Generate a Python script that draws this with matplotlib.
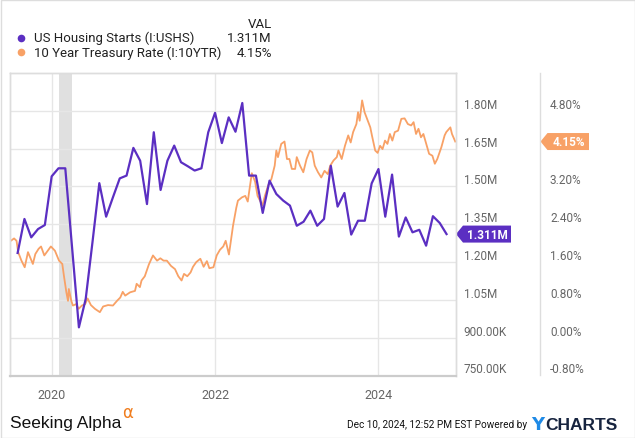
import matplotlib
matplotlib.use("Agg")
import matplotlib.pyplot as plt
from matplotlib.patches import Polygon, Rectangle
from matplotlib.lines import Line2D
from matplotlib.transforms import IdentityTransform
import pandas as pd

plt.rcParams['font.family'] = ['Roboto', 'DejaVu Sans']

PURPLE = '#5b2fc2'
ORANGE = '#f8a166'
GRID = '#e6e6e6'
TICK = '#666666'

# US housing starts, millions (monthly, Jul 2019 - Oct 2024)
housing_start = '2019-07-31'
housing = [
    1.236, 1.371, 1.298, 1.331, 1.347, 1.540,
    1.572, 1.572, 1.257, 0.941, 1.054, 1.280, 1.513, 1.380, 1.457, 1.532, 1.543, 1.653,
    1.602, 1.430, 1.715, 1.486, 1.602, 1.662, 1.596, 1.580, 1.563, 1.572, 1.715, 1.792,
    1.672, 1.774, 1.717, 1.831, 1.543, 1.543, 1.395, 1.523, 1.470, 1.444, 1.424, 1.344,
    1.360, 1.404, 1.344, 1.371, 1.582, 1.420, 1.474, 1.309, 1.364, 1.364, 1.512, 1.569,
    1.380, 1.547, 1.301, 1.377, 1.318, 1.328, 1.265, 1.382, 1.355, 1.311,
]

# 10 year treasury rate, % (decimal year, value)
tsy_t = [
    2019.50, 2019.54, 2019.57, 2019.59, 2019.63, 2019.67, 2019.71, 2019.77, 2019.80, 2019.84,
    2019.87, 2019.91, 2019.94, 2019.99, 2020.04, 2020.09, 2020.13, 2020.15, 2020.18, 2020.20,
    2020.21, 2020.24, 2020.26, 2020.30, 2020.33, 2020.37, 2020.41, 2020.44, 2020.48, 2020.53,
    2020.59, 2020.63, 2020.69, 2020.75, 2020.80, 2020.84, 2020.87, 2020.90, 2020.96, 2021.02,
    2021.04, 2021.08, 2021.10, 2021.14, 2021.19, 2021.24, 2021.29, 2021.33, 2021.37, 2021.41,
    2021.46, 2021.51, 2021.55, 2021.59, 2021.62, 2021.66, 2021.70, 2021.73, 2021.77, 2021.82,
    2021.86, 2021.90, 2021.93, 2021.98, 2022.02, 2022.06, 2022.10, 2022.13, 2022.17, 2022.22,
    2022.26, 2022.28, 2022.33, 2022.37, 2022.40, 2022.45, 2022.49, 2022.52, 2022.55, 2022.58,
    2022.61, 2022.65, 2022.69, 2022.73, 2022.75, 2022.77, 2022.81, 2022.85, 2022.88, 2022.91,
    2022.94, 2022.98, 2023.00, 2023.04, 2023.08, 2023.12, 2023.16, 2023.19, 2023.22, 2023.26,
    2023.30, 2023.34, 2023.38, 2023.41, 2023.45, 2023.49, 2023.51, 2023.55, 2023.59, 2023.63,
    2023.66, 2023.69, 2023.73, 2023.75, 2023.77, 2023.80, 2023.83, 2023.86, 2023.90, 2023.92,
    2023.96, 2023.99, 2024.02, 2024.05, 2024.08, 2024.11, 2024.14, 2024.17, 2024.20, 2024.24,
    2024.28, 2024.32, 2024.36, 2024.40, 2024.43, 2024.46, 2024.49, 2024.52, 2024.55, 2024.58,
    2024.62, 2024.66, 2024.69, 2024.72, 2024.77, 2024.81, 2024.83, 2024.88, 2024.90, 2024.94,
]
tsy = [
    2.05, 2.10, 2.05, 1.81, 1.63, 1.49, 1.81, 1.56, 1.77, 1.88,
    1.93, 1.74, 1.81, 1.93, 1.84, 1.63, 1.56, 1.31, 0.96, 0.78,
    1.03, 0.78, 0.68, 0.71, 0.61, 0.68, 0.71, 0.83, 0.69, 0.61,
    0.54, 0.66, 0.69, 0.68, 0.78, 0.85, 0.97, 0.89, 0.96, 0.99,
    1.14, 1.07, 1.21, 1.30, 1.55, 1.74, 1.63, 1.68, 1.63, 1.63,
    1.52, 1.45, 1.30, 1.21, 1.35, 1.30, 1.38, 1.50, 1.60, 1.67,
    1.50, 1.62, 1.47, 1.49, 1.74, 1.86, 1.93, 2.05, 1.76, 2.37,
    2.75, 2.90, 2.97, 3.00, 2.88, 3.48, 3.30, 3.00, 2.90, 2.80,
    3.00, 3.22, 3.36, 3.64, 3.96, 3.82, 4.10, 4.15, 3.78, 3.78,
    3.57, 3.57, 3.82, 3.64, 3.50, 3.78, 3.96, 3.92, 3.64, 3.50,
    3.39, 3.53, 3.46, 3.64, 3.75, 3.82, 3.96, 3.78, 4.06, 4.28,
    4.13, 4.35, 4.52, 4.77, 4.59, 5.02, 4.77, 4.63, 4.45, 4.28,
    3.96, 3.91, 4.06, 3.99, 4.17, 4.10, 4.31, 4.17, 4.35, 4.38,
    4.63, 4.64, 4.52, 4.49, 4.56, 4.31, 4.42, 4.24, 4.31, 4.13,
    3.89, 3.85, 3.68, 3.78, 4.03, 4.28, 4.35, 4.45, 4.31, 4.15,
]

recession = (2020.09, 2020.25)
housing_ticks = [0.75, 0.90, 1.05, 1.20, 1.35, 1.50, 1.65, 1.80]
rate_ticks = [-0.8, 0.0, 0.8, 1.6, 2.4, 3.2, 4.8]   # 4.00% sits under the badge
grid_rates = [0.0, 0.8, 1.6, 2.4, 3.2, 4.0, 4.8]
year_ticks = [2020, 2022, 2024]

dates = pd.date_range(housing_start, periods=len(housing), freq='ME')
housing_t = [d.year + d.month / 12 for d in dates]

W, H = 635, 439
fig = plt.figure(figsize=(W / 100, H / 100), dpi=100)
ax = fig.add_axes([10 / W, 1 - 376.5 / H, 445.5 / W, 302.5 / H])
ax2 = ax.twinx()

# background marks live on the lower axes so both lines sit above them
ax2.axvspan(*recession, color='#e0e0e0', lw=0, zorder=0)
for yv in grid_rates:
    ax2.axhline(yv, color=GRID, lw=1, zorder=0.5)
for xv in year_ticks:
    ax2.axvline(xv, color=GRID, lw=1, zorder=0.5)

ax.plot(housing_t, housing, color=PURPLE, lw=1.6, zorder=3)
ax2.plot(tsy_t, tsy, color=ORANGE, lw=1.3, zorder=2)
ax.set_zorder(ax2.get_zorder() + 1)
ax.patch.set_visible(False)

ax.set_xlim(2019.49, 2024.943)
ax.set_ylim(0.75, 1.95)
ax2.set_ylim(-0.8, 5.6)

ax.set_xticks(year_ticks)
ax.set_xticklabels([str(y) for y in year_ticks])
ax.tick_params(axis='x', length=0, pad=9, labelsize=9, labelcolor=TICK)

ax.yaxis.tick_right()
ax.set_yticks(housing_ticks)
ax.set_yticklabels([f'{v:.2f}M' if v >= 1 else f'{v * 1000:.2f}K' for v in housing_ticks])
ax.tick_params(axis='y', length=0, pad=6, labelsize=8.5, labelcolor=TICK)
for lab in ax.get_yticklabels():
    lab.set_va('bottom')

ax2.set_yticks(rate_ticks)
ax2.set_yticklabels([f'{v:.2f}%' for v in rate_ticks])
ax2.tick_params(axis='y', length=0, pad=68, labelsize=8.5, labelcolor=TICK)
for lab in ax2.get_yticklabels():
    lab.set_va('bottom')

for a in (ax, ax2):
    for s in a.spines.values():
        s.set_color('#dddddd')
        s.set_linewidth(1)
    a.spines['bottom'].set_color('#cccccc')
    a.spines['bottom'].set_linewidth(1.5)

# separator between the two value scales
fig.add_artist(Line2D([540 / W, 540 / W], [1 - 74 / H, 1 - 376 / H],
                      transform=fig.transFigure, color='#dddddd', lw=1))


def badge(x0, width, yval, axis, color, text):
    _, yp = axis.transData.transform((0, yval))
    xr = x0 + width
    pts = [(x0, yp), (x0 + 7, yp + 8.5), (xr, yp + 8.5), (xr, yp - 8.5), (x0 + 7, yp - 8.5)]
    fig.add_artist(Polygon(pts, closed=True, transform=IdentityTransform(),
                           facecolor=color, edgecolor='none'))
    fig.text((x0 + 4 + width / 2) / W, yp / H, text, color='white', fontsize=8.5,
             fontweight='bold', ha='center', va='center')


badge(456, 55, housing[-1], ax, PURPLE, f'{housing[-1]:.3f}M')
badge(540.5, 48.5, tsy[-1], ax2, ORANGE, f'{tsy[-1]:.2f}%')

# legend header
fig.text(271.7 / W, 1 - 24 / H, 'VAL', ha='right', va='center', fontsize=9.5, color='#222222')
rows = [('US Housing Starts (I:USHS)', PURPLE, f'{housing[-1]:.3f}M', 38.7),
        ('10 Year Treasury Rate (I:10YTR)', ORANGE, f'{tsy[-1]:.2f}%', 53.3)]
for name, col, val, yy in rows:
    fig.add_artist(Line2D([20.7 / W], [1 - yy / H], marker='o', ms=5.5, color=col,
                          markeredgewidth=0, transform=fig.transFigure))
    fig.text(34 / W, 1 - yy / H, name, ha='left', va='center', fontsize=9.5, color='#222222')
    fig.text(271.7 / W, 1 - yy / H, val, ha='right', va='center', fontsize=9.5, color='#222222')

# footer
sa = fig.text(10 / W, 1 - 428 / H, 'Seeking Alpha', ha='left', va='baseline', fontsize=12.5,
              color='#111111', family=['Liberation Sans', 'DejaVu Sans'])
fig.canvas.draw()
sa_right = sa.get_window_extent().x1
fig.text((sa_right + 0.5) / W, 1 - 418 / H, 'α', ha='left', va='baseline', fontsize=12,
         color='#f07d1e', family=['DejaVu Sans'])
fig.text(527 / W, 1 - 425 / H, 'Dec 10, 2024, 12:52 PM EST Powered by', ha='right', va='center',
         fontsize=7.2, color='#111111')
fig.text(531.5 / W, 1 - 425.5 / H, 'Y', ha='left', va='center', fontsize=13, fontweight='bold',
         color='#1f8ae6', family=['DejaVu Sans'])
fig.text(545 / W, 1 - 425.5 / H, 'CHARTS', ha='left', va='center', fontsize=12.5, fontweight='bold',
         color='#17243f', family=['Liberation Sans', 'DejaVu Sans'])

fig.add_artist(Rectangle((0.5 / W, 0.5 / H), 1 - 1 / W, 1 - 1 / H, transform=fig.transFigure,
                         fill=False, edgecolor='#dddddd', lw=1))

fig.savefig('out.png', dpi=100)
